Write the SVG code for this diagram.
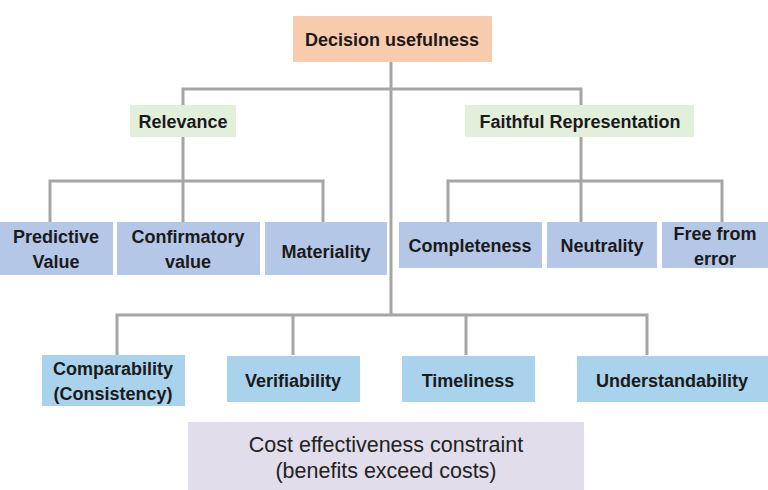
<svg xmlns="http://www.w3.org/2000/svg" width="768" height="490" viewBox="0 0 768 490">
<style>
.ln{fill:none;stroke:#A5A5A5;stroke-width:3}
.t{font-family:"Liberation Sans",Arial,sans-serif;font-weight:bold;font-size:18px;fill:#1a1a1a;text-anchor:middle}
.c{font-family:"Liberation Sans",Arial,sans-serif;font-size:21.5px;fill:#222;text-anchor:middle}
.top{fill:#F8CBAD}
.grn{fill:#E2EFDA}
.mid{fill:#B4C7E7}
.bot{fill:#A9D3EC}
.cost{fill:#E1DDEA}
</style>
<rect width="768" height="490" fill="#ffffff"/>
<g id="connectors">
<path class="ln" d="M391 62 V315"/>
<path class="ln" d="M183 105 V89 H581 V105"/>
<path class="ln" d="M183 137 V222 M50 222 V181 H323 V222"/>
<path class="ln" d="M581 137 V222 M448 222 V181 H722 V222"/>
<path class="ln" d="M117 355 V315 H647 V355 M293 315 V355 M466 315 V355"/>
</g>
<g id="decision"><rect class="top" x="293" y="16" width="199" height="46"/><text class="t" x="392" y="46">Decision usefulness</text></g>
<g id="relevance"><rect class="grn" x="130" y="105" width="106" height="32"/><text class="t" x="183" y="128">Relevance</text></g>
<g id="faithful"><rect class="grn" x="465" y="105" width="229" height="32"/><text class="t" x="580" y="128">Faithful Representation</text></g>
<g id="predictive"><rect class="mid" x="0" y="222" width="113" height="53"/><text class="t" x="56" y="243">Predictive</text><text class="t" x="56" y="268">Value</text></g>
<g id="confirmatory"><rect class="mid" x="117" y="222" width="143" height="53"/><text class="t" x="188" y="243">Confirmatory</text><text class="t" x="188" y="268">value</text></g>
<g id="materiality"><rect class="mid" x="265" y="222" width="122" height="53"/><text class="t" x="326" y="258">Materiality</text></g>
<g id="completeness"><rect class="mid" x="399" y="222" width="143" height="46"/><text class="t" x="470" y="252">Completeness</text></g>
<g id="neutrality"><rect class="mid" x="547" y="222" width="110" height="46"/><text class="t" x="602" y="252">Neutrality</text></g>
<g id="free"><rect class="mid" x="662" y="222" width="106" height="46"/><text class="t" x="715" y="240">Free from</text><text class="t" x="715" y="265">error</text></g>
<g id="comparability"><rect class="bot" x="42" y="355" width="143" height="51"/><text class="t" x="113" y="375">Comparability</text><text class="t" x="113" y="400">(Consistency)</text></g>
<g id="verifiability"><rect class="bot" x="227" y="356" width="133" height="46"/><text class="t" x="293" y="387">Verifiability</text></g>
<g id="timeliness"><rect class="bot" x="402" y="356" width="133" height="46"/><text class="t" x="468" y="387">Timeliness</text></g>
<g id="understandability"><rect class="bot" x="577" y="356" width="191" height="46"/><text class="t" x="672" y="387">Understandability</text></g>
<g id="cost"><rect class="cost" x="188" y="422" width="396" height="68"/><text class="c" x="386" y="452">Cost effectiveness constraint</text><text class="c" x="386" y="478">(benefits exceed costs)</text></g>
</svg>
